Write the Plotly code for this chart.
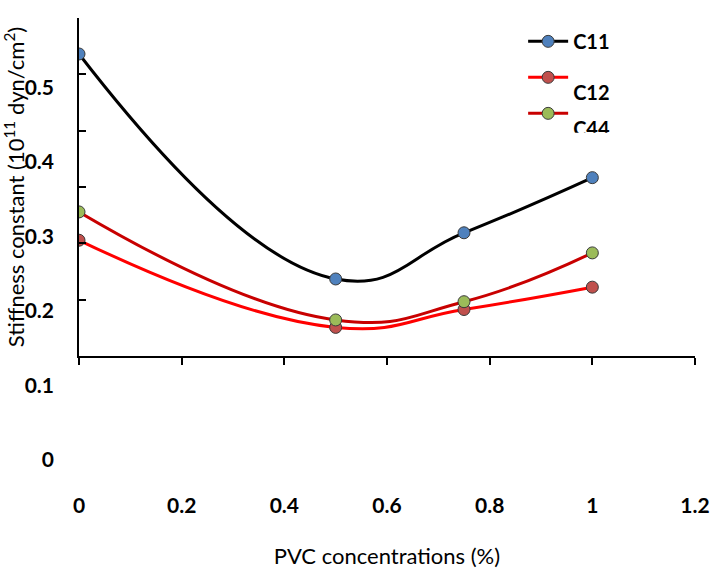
import plotly.graph_objects as go

# Data
pvc = [0, 0.5, 0.75, 1]
c11 = [0.545, 0.243, 0.305, 0.379]
c12 = [0.295, 0.178, 0.202, 0.232]
c44 = [0.333, 0.188, 0.2125, 0.278]

x_ticks = [0, 0.2, 0.4, 0.6, 0.8, 1, 1.2]
y_labels = [0, 0.1, 0.2, 0.3, 0.4, 0.5, 0.6]

FONT = "Lato"
marker_line = dict(color="#3a3a3a", width=1)
SMOOTH = 1.3

fig = go.Figure()
fig.add_trace(go.Scatter(
    x=pvc, y=c11, name="C11", mode="lines+markers", legendgroup="a",
    line=dict(color="black", width=3, shape="spline", smoothing=SMOOTH),
    marker=dict(color="#4F81BD", size=12, line=marker_line),
))
fig.add_trace(go.Scatter(
    x=pvc, y=c12, name="<span style='baseline-shift:-15px'>C12</span>",
    mode="lines+markers", legendgroup="b",
    line=dict(color="#FF0000", width=3, shape="spline", smoothing=SMOOTH),
    marker=dict(color="#C0504D", size=12, line=marker_line),
))
# C44 is drawn on the framed axis (same pixel scale as the labelled axis)
fig.add_trace(go.Scatter(
    x=pvc, y=c44, name="<span style='baseline-shift:-15px'>C44</span>",
    mode="lines+markers", legendgroup="c", yaxis="y2",
    line=dict(color="#C80000", width=3, shape="spline", smoothing=SMOOTH),
    marker=dict(color="#9BBB59", size=12, line=marker_line),
))

W, H = 719, 572
H0, H1 = 12, 460  # plot area top/bottom in px
lbl_top, frame_top, frame_bot = 13, 18, 356
span = H1 - H0
lo = (H1 - frame_bot) / (H1 - lbl_top) * 0.6
hi = (H1 - frame_top) / (H1 - lbl_top) * 0.6

fig.update_layout(
    width=W, height=H,
    margin=dict(l=79, r=24, t=H0, b=H - H1, autoexpand=False),
    paper_bgcolor="white", plot_bgcolor="rgba(0,0,0,0)",
    font=dict(family=FONT, color="black"),
    showlegend=True,
    legend=dict(
        x=0.721, y=0.978, xanchor="left", yanchor="top",
        font=dict(size=20, weight="bold", family=FONT),
        tracegroupgap=7, itemwidth=40, bgcolor="rgba(0,0,0,0)",
    ),
    xaxis=dict(
        range=[0, 1.2], tickvals=x_ticks, anchor="y2", automargin=False,
        showline=True, linecolor="black", linewidth=2,
        ticks="outside", ticklen=7, tickwidth=2, tickcolor="black",
        showgrid=False, zeroline=False,
        tickfont=dict(size=21, weight="bold", family=FONT),
        ticklabelstandoff=123,
        title=dict(text="PVC concentrations (%)", font=dict(size=22, family=FONT), standoff=32),
    ),
    # labelled axis (no line, no ticks)
    yaxis=dict(
        domain=[0, (H1 - lbl_top) / span], range=[0, 0.6], tickvals=y_labels,
        anchor="x", automargin=False,
        showline=False, ticks="", showgrid=False, zeroline=False,
        tickfont=dict(size=21, weight="bold", family=FONT),
        ticklabelstandoff=24,
    ),
    # framed axis (line + inside ticks, no labels)
    yaxis2=dict(
        domain=[(H1 - frame_bot) / span, (H1 - frame_top) / span],
        range=[lo, hi], tick0=lo, dtick=(hi - lo) / 6,
        anchor="x", side="left", automargin=False,
        showline=True, linecolor="black", linewidth=2,
        ticks="inside", ticklen=7, tickwidth=2, tickcolor="black",
        showticklabels=False, showgrid=False, zeroline=False,
        title=dict(text="Stiffness constant (10<sup>11</sup> dyn/cm<sup>2</sup>)",
                   font=dict(size=22, family=FONT), standoff=56),
    ),
)

fig.write_html("out.html", config={"displayModeBar": False},
               post_script="document.body.style.margin='0';")
